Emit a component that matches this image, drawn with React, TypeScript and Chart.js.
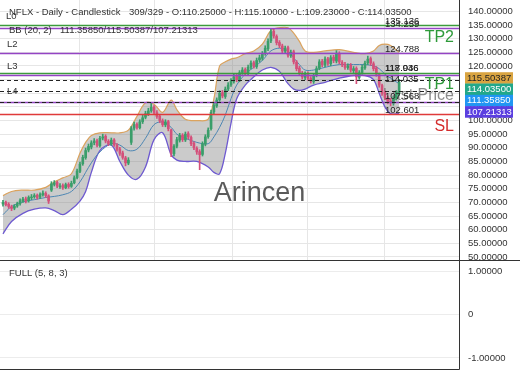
import React, { useEffect, useRef } from "react";
import { Chart, registerables } from "chart.js";
Chart.register(...registerables);

const FONT = '"Liberation Sans", Arial, Helvetica, sans-serif';

// ---- candle data (bar index 0..139) ----
const opens = [69.4,70.0,69.3,68.4,67.9,68.7,69.6,70.5,71.3,70.6,
 71.7,72.1,72.6,71.9,72.8,73.3,72.4,74.5,76.6,77.3,
 75.8,76.2,75.4,76.6,75.9,77.2,79.1,81.4,84.2,86.4,
 89.2,90.3,91.9,92.6,90.8,93.6,94.2,92.4,91.4,92.9,
 91.0,89.6,88.1,86.3,84.4,92.0,97.2,98.6,97.4,99.6,
 101.2,102.4,103.6,104.9,102.9,101.6,99.9,98.4,99.6,96.5,
 87.8,90.6,92.8,94.6,92.9,95.2,93.8,91.6,89.8,88.6,
 87.6,91.4,94.1,97.0,103.2,105.4,107.6,110.2,108.8,111.6,
 113.2,114.4,116.2,114.9,117.6,118.7,117.4,119.6,121.2,119.8,
 122.2,122.8,124.6,126.3,129.2,132.7,130.8,128.6,127.3,125.4,
 126.7,123.8,125.2,121.4,119.2,117.3,115.8,117.2,115.4,114.3,
 116.6,119.2,121.7,120.3,122.6,120.8,123.2,121.8,124.6,121.3,
 120.6,119.4,120.2,118.3,119.1,115.8,117.6,119.3,121.2,122.7,
 120.8,119.2,116.8,112.8,110.2,108.3,107.2,106.3,108.2,110.25];

const highs = [70.8,70.5,69.9,69.0,69.2,70.1,71.3,71.9,72.0,72.4,
 72.9,73.2,73.1,73.5,74.2,73.9,72.8,77.6,78.0,77.8,
 76.9,76.8,77.1,77.2,77.8,79.7,82.2,84.8,87.3,89.9,
 91.4,92.6,93.4,93.2,94.2,95.0,94.8,93.0,93.6,93.4,
 91.6,90.2,88.8,86.9,86.4,97.8,99.4,99.2,100.3,101.9,
 103.4,104.5,106.5,105.5,103.6,102.2,100.6,100.3,100.1,96.9,
 91.2,93.8,95.3,95.2,95.8,95.9,94.4,92.2,90.4,89.3,
 92.2,94.8,97.3,103.8,106.4,108.3,110.9,111.0,112.3,113.9,
 115.4,116.9,116.9,118.3,119.4,119.3,120.3,121.9,121.8,122.9,
 124.0,125.3,127.4,129.9,133.5,133.4,131.4,129.3,128.0,127.3,
 127.3,125.8,125.8,122.0,119.9,118.0,117.8,117.8,116.1,117.3,
 119.8,122.3,122.4,123.3,123.2,123.8,123.9,125.6,125.2,122.0,
 121.3,120.8,120.9,119.8,119.7,118.3,120.3,121.8,123.6,123.3,
 121.5,119.8,117.4,113.4,110.9,109.0,108.1,108.8,111.0,115.1];

const lows = [68.6,68.7,67.8,67.0,67.3,68.2,69.0,70.0,69.8,70.1,
 71.0,71.5,71.2,71.4,72.3,71.8,69.6,74.0,76.0,75.4,
 75.1,74.8,75.0,75.2,75.5,76.8,78.6,80.9,83.6,85.8,
 88.5,89.6,91.1,90.3,90.2,92.9,91.8,90.8,90.9,90.5,
 88.8,87.2,85.8,83.4,83.8,91.2,96.5,96.8,96.9,98.9,
 100.6,101.8,103.0,102.3,100.8,99.2,97.8,97.7,96.2,86.8,
 87.0,90.0,92.1,92.3,92.3,93.2,90.8,89.3,87.6,82.0,
 87.0,90.7,93.5,96.5,102.5,104.8,107.0,108.3,108.1,110.9,
 112.5,113.7,114.2,114.2,116.9,116.7,116.8,118.9,119.2,119.1,
 121.4,122.1,123.9,125.6,128.5,130.2,127.7,126.7,124.7,124.6,
 123.2,123.1,120.7,118.2,116.7,115.2,115.0,114.7,113.7,113.6,
 116.0,118.6,119.7,119.6,120.2,120.1,121.2,121.1,120.8,119.7,
 118.7,118.7,117.7,117.5,113.5,115.1,117.0,118.7,120.5,120.2,
 118.2,116.2,112.2,109.2,107.6,106.1,105.4,105.6,107.5,109.23];

const closes = [70.0,69.2,68.5,67.8,68.6,69.5,70.6,71.2,70.5,71.8,
 72.0,72.5,71.8,72.9,73.4,72.5,70.5,76.8,77.2,76.0,
 76.0,75.5,76.5,75.8,77.0,79.0,81.5,84.0,86.5,89.0,
 90.5,91.8,92.5,91.0,93.5,94.0,92.5,91.5,92.8,91.2,
 89.5,88.0,86.5,84.5,85.5,97.0,98.5,97.5,99.5,101.0,
 102.5,103.5,104.8,103.0,101.5,100.0,98.5,99.5,97.0,88.0,
 90.5,93.0,94.5,93.0,95.0,94.0,91.5,90.0,88.5,87.5,
 91.5,94.0,96.5,103.0,105.5,107.5,110.0,109.0,111.5,113.0,
 114.5,116.0,115.0,117.5,118.5,117.5,119.5,121.0,120.0,122.0,
 123.0,124.5,126.5,129.0,132.5,131.0,128.5,127.5,125.5,126.5,
 124.0,125.0,121.5,119.0,117.5,116.0,117.0,115.5,114.5,116.5,
 119.0,121.5,120.5,122.5,121.0,123.0,122.0,124.5,121.5,120.5,
 119.5,120.0,118.5,119.0,116.0,117.5,119.5,121.0,122.5,121.0,
 119.0,117.0,113.0,110.0,108.5,107.0,106.5,108.0,110.3,114.035];

// ---- Bollinger band samples ----
const bbIndex = [0,3,7,11,15,18,21,24,27,29,31,34,38,41,44,47,50,53,56,59,61,64,68,72,74,
 76,78,80,82,85,88,91,94,97,100,102,104,106,109,113,118,123,127,130,132,134,136,139];
const bbUpper = [72.5,74,74.5,74.5,75.5,77.5,79,80.5,88,92,94.5,95.5,95.5,95.5,96.5,101.5,106.5,106,103,107.5,104,100.5,100,100.5,108,
 120,121.5,122.5,123,124.5,125.5,128,133,134,134,132,129,125.5,125,125.5,126,125,124.5,125.5,127.5,128,127.5,125];
const bbMid = [65.5,68.5,70.2,71,71.8,72.2,72.8,74,77.5,81,84.5,88.5,91.5,91,89,89.5,93.5,98.5,99.5,97.5,95,93.5,92,91.5,94,
 97.5,102,108,113,117,119.5,122,125.5,126.5,125.5,123,120.5,118.5,118.5,119.5,120.5,120.5,120.5,120,119,117,115.5,113.5];
const bbLower = [58.5,63,66,67.5,68,67,65.5,67.5,70.5,74,81,89,91,85,80,78.5,83,93,95.5,87.5,85.5,85,85,83,81,
 80.5,88,99,108,113,116,118.5,119.5,118,113.5,111.5,111,111.5,113,114,115.5,116.5,116.5,115,110,105,102.5,102.6];

// ---- axes ----
const yTicks = [50,55,60,65,70,75,80,85,90,95,100,105,110,115,120,125,130,135,140];
const gridX = [26.7, 53.3, 80.4, 107, 134];
const oscTicks = [-1, 0, 1];

// ---- level lines ----
const levelPrices = [135.18, 134.0, 124.74, 117.41, 116.5, 114.85, 110.82, 106.67, 106.67, 102.28];
const levelKinds = ["green", "purple", "purple", "green", "purple", "dash", "dash", "purple", "dash", "red"];
const levelLabelValues = [135.136, 134.259, 124.788, 118.036, 117.946, 114.035, 107.568, 102.601];

// ---- axis value boxes ----
const boxValues = [115.50387, 114.035, 111.3585, 107.21313];

const titleLeft = "NFLX - Daily - Candlestick";
const titleRight = "309/329 - O:110.25000 - H:115.10000 - L:109.23000 - C:114.03500";
const bbLeft = "BB (20, 2)";
const bbRight = "111.35850/115.50387/107.21313";
const oscTitle = "FULL (5, 8, 3)";

const KIND_STYLE: Record<string, { color: string; dash: number[]; width: number }> = {
  green: { color: "#3c9c3c", dash: [], width: 1.5 },
  purple: { color: "#9444c4", dash: [], width: 1.5 },
  dash: { color: "#222222", dash: [4, 3], width: 1 },
  red: { color: "#e03a3a", dash: [], width: 1.5 },
};
const BOX_BG = ["#d9a441", "#22a88a", "#2196f3", "#5b3fe0"];
const BOX_FG = ["#222222", "#ffffff", "#ffffff", "#ffffff"];
const UP = "#3a9e6a";
const DOWN = "#d4507a";

const overlayMain = {
  id: "overlayMain",
  beforeDatasetsDraw(chart: any) {
    const ctx = chart.ctx;
    ctx.save();
    ctx.textBaseline = "middle";
    ctx.fillStyle = "#5a5a5a";
    ctx.font = `27px ${FONT}`;
    ctx.textAlign = "center";
    ctx.fillText("Arincen", 259.5, 194);
    ctx.fillStyle = "#8c8c8c";
    ctx.font = `16px ${FONT}`;
    ctx.textAlign = "right";
    ctx.fillText("Last Price", 454, 96);
    ctx.restore();
  },
  afterDatasetsDraw(chart: any) {
    const ctx = chart.ctx;
    const ca = chart.chartArea;
    const y = chart.scales.y;
    ctx.save();
    levelPrices.forEach((p, i) => {
      const st = KIND_STYLE[levelKinds[i]];
      const py = Math.round(y.getPixelForValue(p)) + 0.5;
      ctx.strokeStyle = st.color;
      ctx.lineWidth = st.width;
      ctx.setLineDash(st.dash);
      ctx.beginPath();
      ctx.moveTo(ca.left, py);
      ctx.lineTo(ca.right, py);
      ctx.stroke();
    });
    ctx.setLineDash([]);
    ctx.font = `9.5px ${FONT}`;
    ctx.fillStyle = "#222";
    ctx.textAlign = "left";
    ctx.textBaseline = "alphabetic";
    levelLabelValues.forEach((v) => {
      ctx.fillText(v.toFixed(3), 385, y.getPixelForValue(v) - 0.5);
    });
    ctx.textBaseline = "middle";
    ctx.fillStyle = "#333";
    ctx.font = `9.5px ${FONT}`;
    ctx.fillText("L0", 6, 16);
    ctx.fillText("L2", 7, 44);
    ctx.fillText("L3", 7, 66);
    ctx.fillText("L4", 7, 91);
    ctx.fillText(titleLeft, 9, 12.5);
    ctx.fillText(titleRight, 129, 12.5);
    ctx.fillText(bbLeft, 9, 30);
    ctx.fillText(bbRight, 60, 30);
    ctx.font = `16px ${FONT}`;
    ctx.textAlign = "right";
    ctx.fillStyle = "#2e9a3a";
    ctx.fillText("TP2", 454, 38);
    ctx.fillText("TP1", 454, 85);
    ctx.fillStyle = "#d42c2c";
    ctx.fillText("SL", 454, 127);
    ctx.restore();
  },
  afterDraw(chart: any) {
    const ctx = chart.ctx;
    const ca = chart.chartArea;
    const y = chart.scales.y;
    ctx.save();
    ctx.font = `9.5px ${FONT}`;
    ctx.fillStyle = "#333";
    ctx.textBaseline = "middle";
    ctx.textAlign = "left";
    ctx.fillText("145.00000", 468, y.getPixelForValue(145));
    const top0 = y.getPixelForValue(boxValues[0]) - 6;
    boxValues.forEach((v, i) => {
      const t = top0 + i * 11.3;
      ctx.fillStyle = BOX_BG[i];
      ctx.fillRect(465, t, 48, 11.6);
      ctx.fillStyle = BOX_FG[i];
      ctx.fillText(v.toFixed(5), 467, t + 6);
    });
    ctx.strokeStyle = "#333";
    ctx.lineWidth = 1;
    ctx.beginPath();
    ctx.moveTo(ca.right + 0.5, 0);
    ctx.lineTo(ca.right + 0.5, ca.bottom);
    ctx.stroke();
    ctx.restore();
  },
};

const overlayOsc = {
  id: "overlayOsc",
  afterDraw(chart: any) {
    const ctx = chart.ctx;
    const ca = chart.chartArea;
    ctx.save();
    ctx.font = `9.5px ${FONT}`;
    ctx.fillStyle = "#333";
    ctx.textBaseline = "middle";
    ctx.fillText(oscTitle, 9, 13);
    ctx.strokeStyle = "#333";
    ctx.lineWidth = 1;
    ctx.beginPath();
    ctx.moveTo(0, 0.5);
    ctx.lineTo(520, 0.5);
    ctx.moveTo(ca.right + 0.5, 0);
    ctx.lineTo(ca.right + 0.5, ca.bottom + 0.5);
    ctx.lineTo(0, ca.bottom + 0.5);
    ctx.stroke();
    ctx.restore();
  },
};

export default function App() {
  const mainRef = useRef<HTMLCanvasElement>(null);
  const oscRef = useRef<HTMLCanvasElement>(null);

  useEffect(() => {
    Chart.defaults.font.family = FONT;
    const colors = closes.map((c, i) => (c >= opens[i] ? UP : DOWN));
    const wickData = closes.map((_, i) => ({ x: i, y: [lows[i], highs[i]] }));
    const bodyData = closes.map((c, i) => ({ x: i, y: [Math.min(opens[i], c), Math.max(opens[i], c)] }));
    const band = (arr: number[]) => bbIndex.map((x, k) => ({ x, y: arr[k] }));

    const fitY = (s: any) => {
      s.width = 61;
      s.paddingTop = 0;
      s.paddingBottom = 0;
    };

    const main = new Chart(mainRef.current as HTMLCanvasElement, {
      type: "bar",
      data: {
        datasets: [
          { type: "line", data: band(bbUpper), borderColor: "#dba35e", borderWidth: 1.2, pointRadius: 0, tension: 0.35, fill: 1, backgroundColor: "rgba(125,125,125,0.4)", order: 6 } as any,
          { type: "line", data: band(bbLower), borderColor: "#6e5ad0", borderWidth: 1.3, pointRadius: 0, tension: 0.35, fill: false, order: 5 } as any,
          { type: "line", data: band(bbMid), borderColor: "#4d86b3", borderWidth: 1, pointRadius: 0, tension: 0.35, fill: false, order: 4 } as any,
          { type: "bar", data: wickData, backgroundColor: colors, barThickness: 1, grouped: false, order: 2 } as any,
          { type: "bar", data: bodyData, backgroundColor: colors, barThickness: 2, grouped: false, order: 1 } as any,
        ],
      },
      options: {
        responsive: false,
        animation: false,
        events: [],
        layout: { padding: { left: 0, right: 0, top: 0, bottom: 4 } },
        plugins: { legend: { display: false }, tooltip: { enabled: false } },
        scales: {
          x: {
            type: "linear",
            min: -1.05,
            max: 160,
            offset: false,
            afterBuildTicks: (s: any) => { s.ticks = gridX.map((v) => ({ value: v })); },
            afterFit: (s: any) => { s.height = 0; },
            ticks: { display: false, autoSkip: false },
            grid: { color: "#e6e6e6", drawTicks: false, offset: false },
            border: { display: false },
          },
          y: {
            type: "linear",
            position: "right",
            min: 48.9,
            max: 144.16,
            afterBuildTicks: (s: any) => { s.ticks = yTicks.map((v) => ({ value: v })); },
            afterFit: fitY,
            ticks: { autoSkip: false, padding: 9, color: "#333", font: { size: 9.5 }, callback: (v: any) => Number(v).toFixed(5) },
            grid: { color: "#e6e6e6", drawTicks: false },
            border: { display: false },
          },
        },
      } as any,
      plugins: [overlayMain],
    });

    const osc = new Chart(oscRef.current as HTMLCanvasElement, {
      type: "line",
      data: { datasets: [] },
      options: {
        responsive: false,
        animation: false,
        events: [],
        layout: { padding: { left: 0, right: 0, top: 0, bottom: 21 } },
        plugins: { legend: { display: false }, tooltip: { enabled: false } },
        scales: {
          x: { type: "linear", min: -1.05, max: 160, display: false },
          y: {
            type: "linear",
            position: "right",
            min: -1.253,
            max: 1.253,
            afterBuildTicks: (s: any) => { s.ticks = oscTicks.map((v) => ({ value: v })); },
            afterFit: fitY,
            ticks: { autoSkip: false, padding: 9, color: "#333", font: { size: 9.5 }, callback: (v: any) => (Number(v) === 0 ? "0" : Number(v).toFixed(5)) },
            grid: { color: "#ececec", drawTicks: false },
            border: { display: false },
          },
        },
      } as any,
      plugins: [overlayOsc],
    });

    return () => {
      main.destroy();
      osc.destroy();
    };
  }, []);

  return (
    <div style={{ position: "absolute", left: 0, top: 0, width: 520, height: 390, background: "#ffffff" }}>
      <canvas ref={mainRef} width={520} height={264} style={{ position: "absolute", left: 0, top: 0, width: 520, height: 264 }} />
      <canvas ref={oscRef} width={520} height={130} style={{ position: "absolute", left: 0, top: 260, width: 520, height: 130 }} />
    </div>
  );
}
